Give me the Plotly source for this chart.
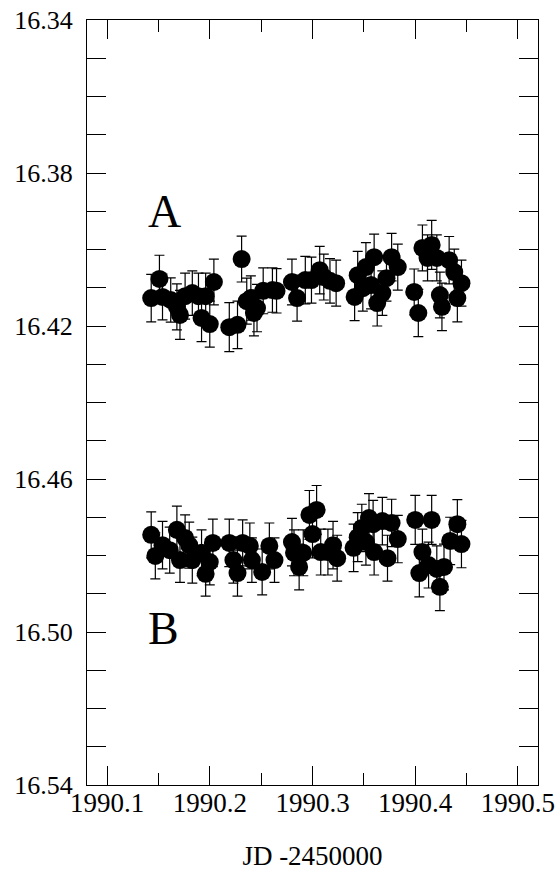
import plotly.graph_objects as go

# Series A
a_jd = [1990.143, 1990.151, 1990.154, 1990.162, 1990.168, 1990.171, 1990.176, 1990.183,
        1990.189, 1990.192, 1990.196, 1990.200, 1990.204, 1990.219, 1990.227, 1990.231,
        1990.236, 1990.240, 1990.243, 1990.246, 1990.252, 1990.261, 1990.265, 1990.280,
        1990.285, 1990.293, 1990.299, 1990.307, 1990.311, 1990.317, 1990.323, 1990.341,
        1990.344, 1990.349, 1990.352, 1990.357, 1990.360, 1990.363, 1990.368, 1990.372,
        1990.377, 1990.383, 1990.399, 1990.403, 1990.407, 1990.412, 1990.416, 1990.421,
        1990.424, 1990.426, 1990.433, 1990.438, 1990.441, 1990.445]
a_mag = [16.4127, 16.4077, 16.4124, 16.4132, 16.4150, 16.4171, 16.4122, 16.4114,
         16.4122, 16.4179, 16.4122, 16.4195, 16.4085, 16.4203, 16.4197, 16.4025,
         16.4135, 16.4127, 16.4166, 16.4153, 16.4108, 16.4106, 16.4108, 16.4085,
         16.4127, 16.4080, 16.4080, 16.4054, 16.4072, 16.4082, 16.4088, 16.4124,
         16.4067, 16.4101, 16.4046, 16.4093, 16.4020, 16.4140, 16.4114, 16.4075,
         16.4020, 16.4046, 16.4111, 16.4166, 16.3996, 16.4022, 16.3988, 16.4022,
         16.4119, 16.4150, 16.4028, 16.4059, 16.4127, 16.4088]
a_err = [0.0062, 0.0062, 0.0060, 0.0058, 0.0060, 0.0064, 0.0060, 0.0058,
         0.0060, 0.0062, 0.0060, 0.0060, 0.0060, 0.0064, 0.0062, 0.0060,
         0.0060, 0.0058, 0.0060, 0.0062, 0.0060, 0.0058, 0.0058, 0.0060,
         0.0060, 0.0062, 0.0060, 0.0062, 0.0060, 0.0058, 0.0060, 0.0062,
         0.0062, 0.0060, 0.0064, 0.0062, 0.0060, 0.0060, 0.0058, 0.0060,
         0.0062, 0.0060, 0.0060, 0.0062, 0.0060, 0.0060, 0.0064, 0.0060,
         0.0060, 0.0062, 0.0062, 0.0060, 0.0062, 0.0060]

# Series B
b_jd = [1990.143, 1990.147, 1990.154, 1990.161, 1990.168, 1990.171, 1990.176, 1990.180,
        1990.183, 1990.192, 1990.196, 1990.200, 1990.203, 1990.219, 1990.223, 1990.227,
        1990.232, 1990.239, 1990.241, 1990.251, 1990.258, 1990.263, 1990.280, 1990.282,
        1990.287, 1990.291, 1990.297, 1990.300, 1990.304, 1990.308, 1990.315, 1990.320,
        1990.324, 1990.340, 1990.344, 1990.348, 1990.352, 1990.355, 1990.359, 1990.360,
        1990.368, 1990.373, 1990.377, 1990.383, 1990.400, 1990.404, 1990.407, 1990.413,
        1990.416, 1990.421, 1990.424, 1990.428, 1990.434, 1990.441, 1990.445]
b_mag = [16.4746, 16.4801, 16.4773, 16.4786, 16.4733, 16.4812, 16.4754, 16.4773,
         16.4812, 16.4793, 16.4848, 16.4817, 16.4767, 16.4767, 16.4812, 16.4846,
         16.4767, 16.4775, 16.4812, 16.4843, 16.4775, 16.4812, 16.4765, 16.4793,
         16.4830, 16.4793, 16.4694, 16.4744, 16.4681, 16.4791, 16.4791, 16.4773,
         16.4807, 16.4780, 16.4752, 16.4728, 16.4765, 16.4702, 16.4718, 16.4791,
         16.4710, 16.4807, 16.4715, 16.4757, 16.4707, 16.4846, 16.4791, 16.4825,
         16.4707, 16.4835, 16.4882, 16.4830, 16.4762, 16.4718, 16.4770]
b_err = [0.0060, 0.0060, 0.0062, 0.0060, 0.0062, 0.0058, 0.0060, 0.0060,
         0.0060, 0.0060, 0.0058, 0.0060, 0.0062, 0.0062, 0.0060, 0.0060,
         0.0060, 0.0060, 0.0058, 0.0060, 0.0060, 0.0058, 0.0062, 0.0060,
         0.0060, 0.0060, 0.0064, 0.0062, 0.0064, 0.0060, 0.0060, 0.0062,
         0.0060, 0.0062, 0.0064, 0.0062, 0.0060, 0.0064, 0.0062, 0.0060,
         0.0062, 0.0060, 0.0062, 0.0062, 0.0064, 0.0062, 0.0060, 0.0060,
         0.0064, 0.0060, 0.0062, 0.0060, 0.0062, 0.0064, 0.0062]

x_ticks = [1990.1, 1990.2, 1990.3, 1990.4, 1990.5]
x_tick_labels = ["1990.1", "1990.2", "1990.3", "1990.4", "1990.5"]
y_ticks = [16.34, 16.38, 16.42, 16.46, 16.50, 16.54]
y_tick_labels = ["16.34", "16.38", "16.42", "16.46", "16.50", "16.54"]

FONT = "Liberation Serif, Times New Roman, serif"

fig = go.Figure()
for xs, ys, es in [(a_jd, a_mag, a_err), (b_jd, b_mag, b_err)]:
    fig.add_trace(go.Scatter(
        x=xs, y=ys, mode="markers",
        marker=dict(color="black", size=18, line=dict(width=0)),
        error_y=dict(type="data", array=es, visible=True, color="black",
                     thickness=1.2, width=5),
        showlegend=False, hoverinfo="skip"))

fig.add_annotation(x=1990.156, y=16.3900, text="A", showarrow=False,
                   font=dict(family=FONT, size=46, color="black"))
fig.add_annotation(x=1990.155, y=16.4990, text="B", showarrow=False,
                   font=dict(family=FONT, size=46, color="black"))

fig.update_layout(
    width=556, height=877,
    margin=dict(l=87, r=18, t=20, b=92, autoexpand=False),
    paper_bgcolor="white", plot_bgcolor="white",
    font=dict(family=FONT, size=26, color="black"),
)
fig.update_xaxes(
    range=[1990.0805, 1990.5195],
    tickvals=x_ticks, ticktext=x_tick_labels,
    tickfont=dict(size=27),
    ticks="inside", ticklen=19, tickwidth=1, tickcolor="black",
    minor=dict(dtick=0.05, tick0=1990.05, ticks="inside", ticklen=12,
               tickwidth=1, tickcolor="black"),
    showline=True, linecolor="black", linewidth=1, mirror="allticks",
    showgrid=False, zeroline=False, automargin=False,
    ticklabelstandoff=-6,
    title=dict(text="JD -2450000", font=dict(family=FONT, size=27), standoff=28),
)
fig.update_yaxes(
    range=[16.54, 16.34],
    tickvals=y_ticks, ticktext=y_tick_labels,
    tickfont=dict(size=26),
    ticks="inside", ticklen=19, tickwidth=1, tickcolor="black",
    minor=dict(dtick=0.01, tick0=16.34, ticks="inside", ticklen=19,
               tickwidth=1, tickcolor="black"),
    showline=True, linecolor="black", linewidth=1, mirror="allticks",
    showgrid=False, zeroline=False, automargin=False,
    ticklabelstandoff=8,
)

fig.write_html("out.html", config={"displayModeBar": False},
               post_script="document.body.style.margin='0';document.body.style.padding='0';")
